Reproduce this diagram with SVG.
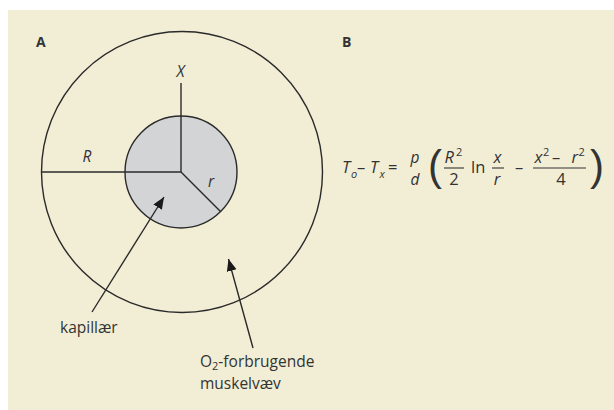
<svg xmlns="http://www.w3.org/2000/svg" width="614" height="410" viewBox="0 0 614 410">
<style>
text{font-family:"Open Sans","Liberation Sans",sans-serif;fill:#333}
.lbl{font-size:15.5px}
.it{font-style:italic}
.f{font-size:16.5px}
.pd{font-size:15.5px}
.sub{font-size:11px}
.head{font-size:14px;font-weight:bold}
.line{stroke:#2a2a2a;stroke-width:1.4;fill:none}
.bar{stroke:#333;stroke-width:1.1}
.par{font-family:"Liberation Sans",sans-serif;font-size:42px}
</style>
<defs>
<marker id="ah" markerUnits="userSpaceOnUse" markerWidth="13" markerHeight="11" refX="12" refY="5" orient="auto">
<path d="M0,0 L12,5 L0,10 z" fill="#1a1a1a"/>
</marker>
</defs>
<rect x="0" y="0" width="614" height="410" fill="#ffffff"/>
<rect x="8" y="10" width="606" height="400" fill="#f2eed6"/>
<g id="panel-labels">
<text class="head" x="36" y="47">A</text>
<text class="head" x="342" y="47">B</text>
</g>
<g id="muscle">
<circle cx="182" cy="172" r="140.5" class="line"/>
</g>
<g id="capillary">
<circle cx="181" cy="172" r="56" fill="#d3d4d5" stroke="#2a2a2a" stroke-width="1.4"/>
</g>
<g id="radii">
<line x1="181" y1="83" x2="181" y2="172" class="line"/>
<line x1="41.5" y1="172" x2="181" y2="172" class="line"/>
<line x1="181" y1="172" x2="220.5" y2="211.5" class="line"/>
<text class="lbl it" x="180.5" y="77" text-anchor="middle">X</text>
<text class="lbl it" x="87" y="162" text-anchor="middle">R</text>
<text class="lbl it" x="211" y="187" text-anchor="middle">r</text>
</g>
<g id="connectors">
<line x1="92" y1="312" x2="164" y2="197" class="line" marker-end="url(#ah)"/>
<line x1="253" y1="348" x2="228.5" y2="259" class="line" marker-end="url(#ah)"/>
</g>
<g id="label-kapillaer">
<text class="lbl" x="60" y="333">kapillær</text>
</g>
<g id="label-muskel">
<text class="lbl" x="200" y="367">O<tspan class="sub" dy="3">2</tspan><tspan dy="-3">-forbrugende</tspan></text>
<text class="lbl" x="200" y="389">muskelvæv</text>
</g>
<g id="formula">
<text class="f it" x="342" y="173">T</text>
<text class="sub it" x="351" y="178">o</text>
<text class="f" x="357" y="173">–</text>
<text class="f it" x="370" y="173">T</text>
<text class="sub it" x="379.5" y="177.5">x</text>
<text class="f" x="388" y="173">=</text>
<text class="pd it" x="415" y="163" text-anchor="middle">p</text>
<text class="pd it" x="415" y="185" text-anchor="middle">d</text>
<text class="par" x="428" y="180">(</text>
<text class="f it" x="444.5" y="163">R</text>
<text class="sub" x="456" y="156">2</text>
<line x1="444" y1="168" x2="464" y2="168" class="bar"/>
<text class="f" x="454" y="184.5" text-anchor="middle">2</text>
<text class="f" x="471" y="173">ln</text>
<text class="f it" x="497.5" y="163" text-anchor="middle">x</text>
<line x1="492" y1="168" x2="504" y2="168" class="bar"/>
<text class="f it" x="497" y="184.5" text-anchor="middle">r</text>
<text class="f" x="515" y="173">–</text>
<text class="f it" x="534.5" y="163">x</text>
<text class="sub" x="543" y="156">2</text>
<text class="f" x="552" y="163">–</text>
<text class="f it" x="571.5" y="163">r</text>
<text class="sub" x="578.5" y="156">2</text>
<line x1="533" y1="168" x2="586" y2="168" class="bar"/>
<text class="f" x="561" y="184.5" text-anchor="middle">4</text>
<text class="par" x="590" y="180">)</text>
</g>
</svg>
